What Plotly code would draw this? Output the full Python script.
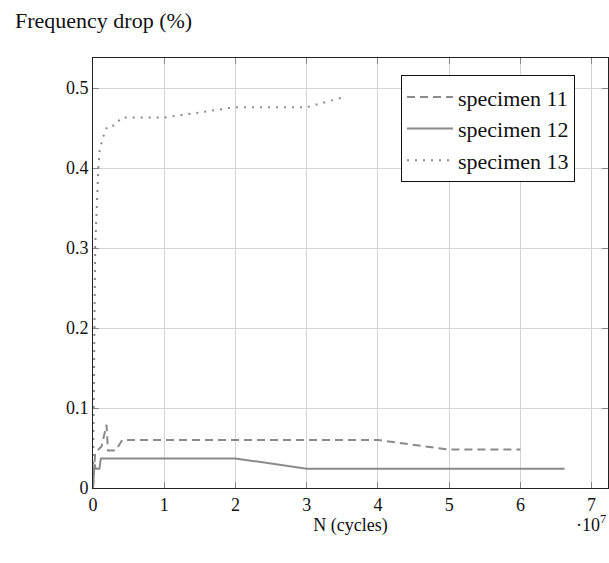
import plotly.graph_objects as go

# Data (x in units of 1e7 cycles, y in %)
s11_x = [0, 0.03, 0.12, 0.19, 0.21, 0.32, 0.41, 4.0, 5.0, 6.0]
s11_y = [0, 0.044, 0.052, 0.079, 0.047, 0.047, 0.060, 0.060, 0.048, 0.048]

s12_x = [0, 0.02, 0.04, 0.09, 0.11, 2.0, 3.0, 6.62]
s12_y = [0, 0.030, 0.024, 0.024, 0.037, 0.037, 0.024, 0.024]

s13_x = [0, 0.03, 0.075, 0.095, 0.155, 0.2, 0.3, 0.4, 1.0, 2.0, 3.0, 3.5]
s13_y = [0, 0.30, 0.40, 0.424, 0.442, 0.452, 0.453, 0.463, 0.463, 0.476, 0.476, 0.488]

x_ticks = [0, 1, 2, 3, 4, 5, 6, 7]
y_ticks = [0, 0.1, 0.2, 0.3, 0.4, 0.5]
y_tick_labels = ["0", "0.1", "0.2", "0.3", "0.4", "0.5"]

line_color = "#8a8a8a"
font_family = "Liberation Serif, DejaVu Serif, serif"
text_color = "#111111"

fig = go.Figure()
fig.add_trace(go.Scatter(x=s11_x, y=s11_y, mode="lines", name="specimen 11",
                         line=dict(color=line_color, width=2, dash="8px,5px")))
fig.add_trace(go.Scatter(x=s12_x, y=s12_y, mode="lines", name="specimen 12",
                         line=dict(color=line_color, width=2)))
fig.add_trace(go.Scatter(x=s13_x, y=s13_y, mode="lines", name="specimen 13",
                         line=dict(color=line_color, width=2, dash="2px,6px")))

axis_common = dict(
    showgrid=True, gridcolor="#d4d4d4", gridwidth=1,
    showline=True, linecolor="#222222", linewidth=1, mirror="allticks",
    ticks="inside", ticklen=6, tickcolor="#888888", tickwidth=1,
    zeroline=False,
    tickfont=dict(family=font_family, size=18, color=text_color),
)

fig.update_xaxes(range=[0, 7.23], tickvals=x_ticks, ticktext=[str(v) for v in x_ticks],
                 title=dict(text="N (cycles)", font=dict(family=font_family, size=18, color=text_color),
                            standoff=4),
                 **axis_common)
fig.update_yaxes(range=[0, 0.5375], tickvals=y_ticks, ticktext=y_tick_labels, **axis_common)

fig.add_annotation(text="Frequency drop (%)", xref="paper", yref="paper",
                   x=-0.155, y=1.088, xanchor="left", yanchor="middle", showarrow=False,
                   font=dict(family=font_family, size=22, color=text_color))
fig.add_annotation(text="·10<sup>7</sup>", xref="paper", yref="paper",
                   x=1.0, y=-0.083, xanchor="right", yanchor="middle", showarrow=False,
                   font=dict(family=font_family, size=18, color=text_color))

fig.update_layout(
    width=609, height=563,
    margin=dict(l=93, r=1, t=58, b=75),
    plot_bgcolor="white", paper_bgcolor="white",
    showlegend=True,
    legend=dict(x=0.598, y=0.96, xanchor="left", yanchor="top",
                bgcolor="white", bordercolor="#111111", borderwidth=1,
                font=dict(family=font_family, size=22, color=text_color),
                itemwidth=46, tracegroupgap=0),
)

fig.write_html("out.html", config={"displayModeBar": False},
               post_script="document.body.style.margin='0';document.body.style.padding='0';")
